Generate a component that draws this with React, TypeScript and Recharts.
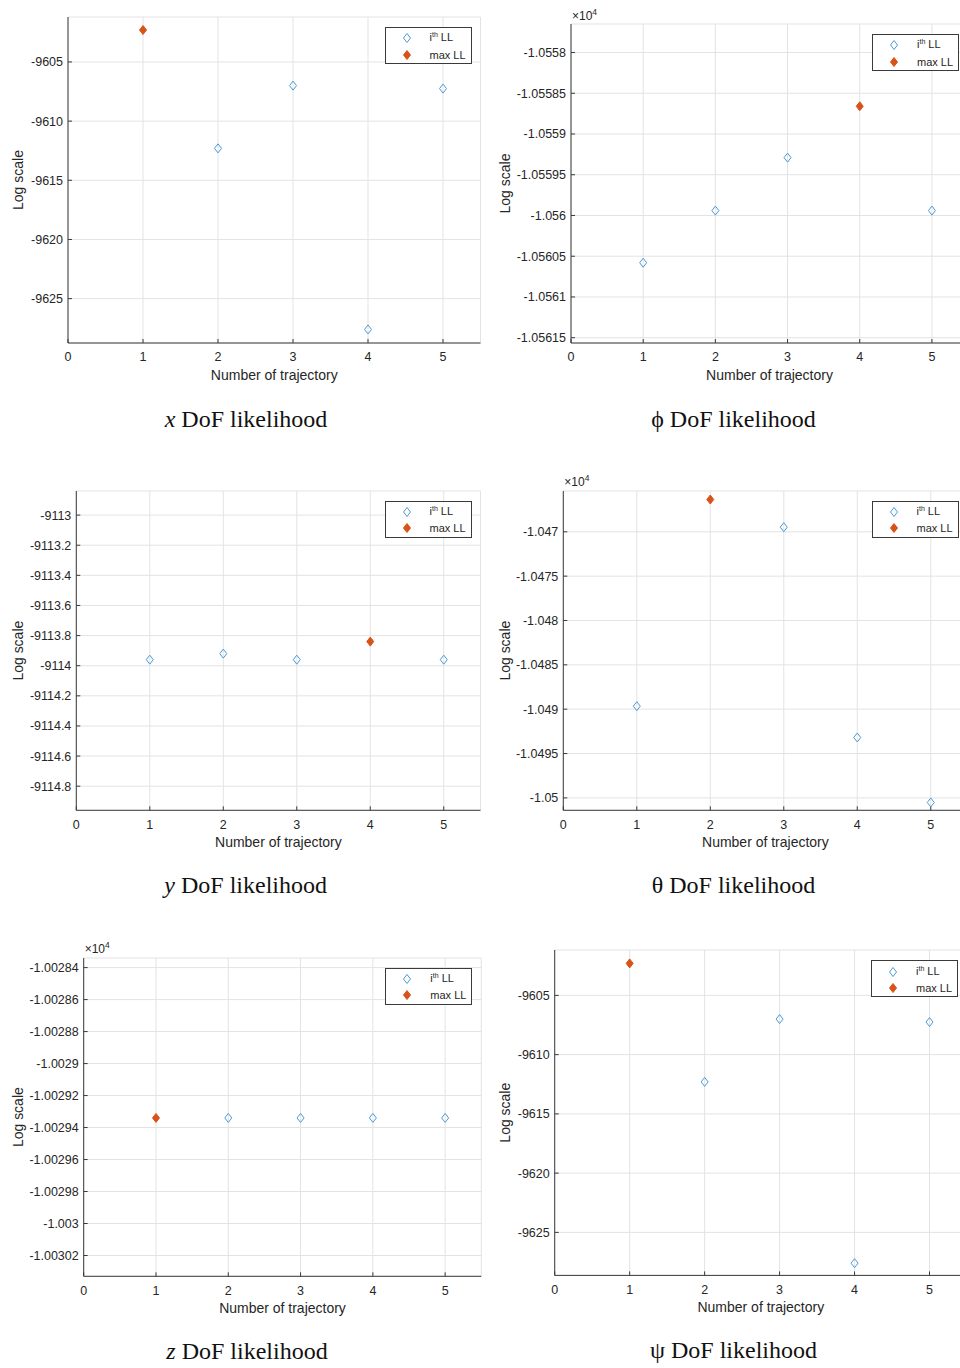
import { CartesianGrid, Legend, Scatter, ScatterChart, XAxis, YAxis } from "recharts";

// log-likelihood of each trajectory, per degree of freedom
const TRAJECTORIES = [1, 2, 3, 4, 5];
const X_TICKS = [0, 1, 2, 3, 4, 5];

const X_DOF_LL = [-9602.3, -9612.3, -9607.0, -9627.6, -9607.25];
const PHI_DOF_LL = [-10560.58, -10559.94, -10559.29, -10558.66, -10559.94];
const Y_DOF_LL = [-9113.96, -9113.92, -9113.96, -9113.84, -9113.96];
const THETA_DOF_LL = [-10489.66, -10466.36, -10469.48, -10493.19, -10500.52];
const Z_DOF_LL = [-10029.34, -10029.34, -10029.34, -10029.34, -10029.34];
const PSI_DOF_LL = [-9602.3, -9612.3, -9607.0, -9627.6, -9607.25];

const X_DOF_TICKS = [-9625, -9620, -9615, -9610, -9605];
const PHI_DOF_TICKS = [-10561.5, -10561, -10560.5, -10560, -10559.5, -10559, -10558.5, -10558];
const Y_DOF_TICKS = [-9114.8, -9114.6, -9114.4, -9114.2, -9114, -9113.8, -9113.6, -9113.4, -9113.2, -9113];
const THETA_DOF_TICKS = [-10500, -10495, -10490, -10485, -10480, -10475, -10470];
const Z_DOF_TICKS = [-10030.2, -10030, -10029.8, -10029.6, -10029.4, -10029.2, -10029, -10028.8, -10028.6, -10028.4];
const PSI_DOF_TICKS = [-9625, -9620, -9615, -9610, -9605];

const BLUE = "#4a9ad4";
const ORANGE = "#d95319";
const INK = "#262626";
const GRID = "#e3e3e3";
const BOX = "#3a3a3a";
const SANS = '"Liberation Sans", Arial, sans-serif';
const TOP = 30;

type Box = { left: number; top: number; right: number; bottom: number };
type Panel = {
  key: string;
  values: number[];
  ticks: number[];
  domain: [number, number];
  scaled: boolean;
  symbol: string;
  italic: boolean;
  col: number;
  plot: Box;
  caption: { x: number; top: number };
  yLabelX: number;
};

const PANELS: Panel[] = [
  {
    key: "x", values: X_DOF_LL, ticks: X_DOF_TICKS, domain: [-9628.75, -9601.2], scaled: false,
    symbol: "x", italic: true, col: 0, plot: { left: 68, top: 17, right: 480.5, bottom: 343 },
    caption: { x: 246, top: 407 }, yLabelX: 18,
  },
  {
    key: "phi", values: PHI_DOF_LL, ticks: PHI_DOF_TICKS, domain: [-10561.565, -10557.65], scaled: true,
    symbol: "ϕ", italic: false, col: 490, plot: { left: 571, top: 24, right: 968, bottom: 343 },
    caption: { x: 733.5, top: 407 }, yLabelX: 505,
  },
  {
    key: "y", values: Y_DOF_LL, ticks: Y_DOF_TICKS, domain: [-9114.96, -9112.84], scaled: false,
    symbol: "y", italic: true, col: 0, plot: { left: 76.3, top: 490.7, right: 480.5, bottom: 810 },
    caption: { x: 245.7, top: 873 }, yLabelX: 18,
  },
  {
    key: "theta", values: THETA_DOF_LL, ticks: THETA_DOF_TICKS, domain: [-10501.4, -10465.4], scaled: true,
    symbol: "θ", italic: false, col: 490, plot: { left: 563.3, top: 490.7, right: 967.5, bottom: 810 },
    caption: { x: 733.5, top: 873 }, yLabelX: 505,
  },
  {
    key: "z", values: Z_DOF_LL, ticks: Z_DOF_TICKS, domain: [-10030.33, -10028.34], scaled: true,
    symbol: "z", italic: true, col: 0, plot: { left: 83.7, top: 957.7, right: 481.3, bottom: 1276 },
    caption: { x: 247, top: 1339 }, yLabelX: 18,
  },
  {
    key: "psi", values: PSI_DOF_LL, ticks: PSI_DOF_TICKS, domain: [-9628.63, -9601.17], scaled: false,
    symbol: "ψ", italic: false, col: 490, plot: { left: 554.7, top: 950.3, right: 967, bottom: 1275.7 },
    caption: { x: 733.5, top: 1338 }, yLabelX: 505,
  },
];

const diamondPath = (cx: number, cy: number) =>
  `M${cx},${cy - 4.5}L${cx + 3.5},${cy}L${cx},${cy + 4.5}L${cx - 3.5},${cy}Z`;

const OpenDiamond = (props: any) => (
  <path d={diamondPath(props.cx, props.cy)} fill="none" stroke={BLUE} strokeWidth={1} />
);
const FilledDiamond = (props: any) => (
  <path d={diamondPath(props.cx, props.cy)} fill={ORANGE} stroke={ORANGE} strokeWidth={1} />
);

function LegendBox(props: any) {
  const payload = props.payload ?? [];
  return (
    <div
      style={{
        boxSizing: "border-box", width: 87, height: 37, border: `1px solid ${BOX}`,
        background: "#fff", paddingTop: 2, fontFamily: SANS, fontSize: 11, color: INK,
      }}
    >
      {payload.map((e: any) => {
        const isMax = e.value === "max LL";
        return (
          <div key={e.value} style={{ display: "flex", alignItems: "center", height: 16.5 }}>
            <svg width={10} height={12} style={{ marginLeft: 16, display: "block" }}>
              <path
                d={diamondPath(5, 6)}
                fill={isMax ? ORANGE : "none"}
                stroke={isMax ? ORANGE : BLUE}
              />
            </svg>
            <span style={{ marginLeft: 18, lineHeight: "12px" }}>
              {isMax ? (
                "max LL"
              ) : (
                <>
                  i<span style={{ fontSize: 7, position: "relative", top: -4 }}>th</span> LL
                </>
              )}
            </span>
          </div>
        );
      })}
    </div>
  );
}

function LikelihoodPanel({ p }: { p: Panel }) {
  const chartTop = p.plot.top - TOP;
  const width = p.plot.right - p.col + 10;
  const height = p.plot.bottom - chartTop + 45;
  const plotH = p.plot.bottom - p.plot.top;
  const plotL = p.plot.left - p.col;
  const plotR = p.plot.right - p.col;
  const maxIdx = p.values.indexOf(Math.max(...p.values));
  const points = TRAJECTORIES.map((t, i) => ({ t, ll: p.values[i] }));
  const ith = points.filter((_, i) => i !== maxIdx);
  const best = [points[maxIdx]];
  const fmt = (v: number) => (p.scaled ? String(parseFloat((v / 1e4).toFixed(6))) : String(v));
  const tick = { fontSize: 12.5, fill: INK };
  const blank = () => <g />;

  return (
    <div style={{ position: "absolute", left: p.col, top: chartTop }}>
      <ScatterChart
        width={width}
        height={height}
        margin={{ top: TOP, right: 10, bottom: 5, left: 0 }}
        style={{ fontFamily: SANS }}
      >
        <CartesianGrid stroke={GRID} />
        <XAxis
          type="number" dataKey="t" domain={[0, 5.5]} ticks={X_TICKS} allowDataOverflow
          height={40} tickSize={-4} tickMargin={13.5} interval={0} stroke={BOX} tick={tick}
          label={{
            content: () => (
              <text x={(plotL + plotR) / 2} y={TOP + plotH + 36.5} textAnchor="middle" fontSize={14} fill={INK}>
                Number of trajectory
              </text>
            ),
          }}
        />
        <XAxis
          xAxisId="top" orientation="top" type="number" domain={[0, 5.5]} ticks={X_TICKS}
          allowDataOverflow height={0} tickSize={-4} tick={blank} stroke={BOX}
        />
        <YAxis
          type="number" dataKey="ll" domain={p.domain} ticks={p.ticks} allowDataOverflow
          width={plotL} tickSize={-4} tickMargin={9} interval={0} stroke={BOX} tick={tick}
          tickFormatter={fmt}
          label={{
            content: () => {
              const x = p.yLabelX - p.col;
              const y = TOP + plotH / 2;
              return (
                <text
                  x={x} y={y} transform={`rotate(-90 ${x} ${y})`} textAnchor="middle"
                  dominantBaseline="central" fontSize={14} fill={INK}
                >
                  Log scale
                </text>
              );
            },
          }}
        />
        <YAxis
          yAxisId="right" orientation="right" type="number" domain={p.domain} ticks={p.ticks}
          allowDataOverflow width={0} tickSize={-4} tick={blank} stroke={BOX}
        />
        <Legend
          layout="vertical" align="center" verticalAlign="middle" content={LegendBox}
          wrapperStyle={{ left: plotR - 9 - 87, top: TOP + 10, width: 87, height: 37 }}
        />
        <Scatter name="ith LL" data={ith} fill={BLUE} shape={OpenDiamond} isAnimationActive={false} />
        <Scatter name="max LL" data={best} fill={ORANGE} shape={FilledDiamond} isAnimationActive={false} />
      </ScatterChart>
      {p.scaled && (
        <div
          style={{
            position: "absolute", left: plotL + 1, top: TOP - 15.5, fontFamily: SANS,
            fontSize: 12, lineHeight: "14px", color: INK, whiteSpace: "nowrap",
          }}
        >
          ×10<span style={{ fontSize: 8.5, position: "relative", top: -5 }}>4</span>
        </div>
      )}
    </div>
  );
}

export default function App() {
  return (
    <div
      style={{
        position: "absolute", left: 0, top: 0, width: 960, height: 1368,
        overflow: "hidden", background: "#fff",
      }}
    >
      {PANELS.map((p) => (
        <LikelihoodPanel key={p.key} p={p} />
      ))}
      {PANELS.map((p) => (
        <div
          key={`cap-${p.key}`}
          style={{
            position: "absolute", left: p.caption.x - 150, width: 300, top: p.caption.top,
            textAlign: "center", fontFamily: '"Liberation Serif", "Times New Roman", serif',
            fontSize: 24, lineHeight: "24px", color: "#111",
          }}
        >
          <span style={{ fontStyle: p.italic ? "italic" : "normal" }}>{p.symbol}</span> DoF likelihood
        </div>
      ))}
    </div>
  );
}
